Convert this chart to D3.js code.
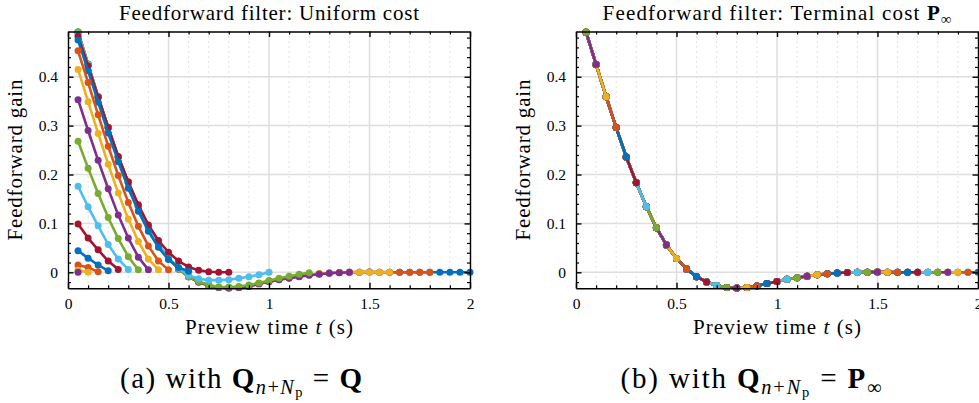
<!DOCTYPE html>
<html>
<head>
<meta charset="utf-8">
<script src="https://cdn.jsdelivr.net/npm/d3@7"></script>
<style>
    body { margin: 0; background: #fff; }
    svg text { font-family: "Liberation Serif", "DejaVu Serif", serif; fill: #000; }
    .tickLabel { font-size: 15.5px; }
    .axisLabel { font-size: 21px; }
    .title { font-size: 21px; }
    .caption { font-size: 29px; }
</style>
</head>
<body>
<svg id="figSVG" width="979" height="403"></svg>
<script>
//////////////////// DATA ////////////////////
// sample time of the preview (s)
const sampleTime = 0.05;

// axis ticks
const xMajorTicks = [0, 0.5, 1, 1.5, 2];
const yMajorTicks = [0, 0.1, 0.2, 0.3, 0.4];

// matlab default colour order
const colorOrder = ["#0072BD", "#D95319", "#EDB120", "#7E2F8E", "#77AC30", "#4DBEEE", "#A2142F"];

// infinite horizon gain (terminal cost P_inf), 40 samples
const gainInf = [0.491, 0.425, 0.359, 0.296, 0.236, 0.183, 0.134, 0.091, 0.056, 0.028,
    0.007, -0.009, -0.020, -0.027, -0.031, -0.032, -0.031, -0.028, -0.023, -0.019,
    -0.014, -0.011, -0.008, -0.005, -0.003, -0.0015, -0.0005, 0.0, 0.0003, 0.0004,
    0.0003, 0.0002, 0.0001, 0.0, 0.0, 0.0, 0.0, 0.0, 0.0, 0.0];

// uniform cost gains, one array per horizon N
const gainN40 = [0.491, 0.425, 0.359, 0.296, 0.236, 0.183, 0.134, 0.091, 0.056, 0.028,
    0.007, -0.009, -0.020, -0.027, -0.031, -0.032, -0.031, -0.028, -0.023, -0.019,
    -0.014, -0.011, -0.008, -0.005, -0.003, -0.0015, -0.0005, 0.0, 0.0003, 0.0004,
    0.0003, 0.0002, 0.0001, 0.0, 0.0, 0.0, 0.0, 0.0, 0.0, 0.0];
const gainN36 = [0.491, 0.425, 0.359, 0.296, 0.236, 0.183, 0.134, 0.091, 0.056, 0.028,
    0.007, -0.009, -0.020, -0.027, -0.031, -0.032, -0.031, -0.028, -0.023, -0.019,
    -0.014, -0.011, -0.008, -0.005, -0.003, -0.0015, -0.0005, 0.0, 0.0003, 0.0004,
    0.0003, 0.0002, 0.0001, 0.0, 0.0, 0.0];
const gainN32 = [0.491, 0.425, 0.359, 0.296, 0.236, 0.183, 0.134, 0.091, 0.056, 0.028,
    0.007, -0.009, -0.020, -0.027, -0.031, -0.032, -0.031, -0.028, -0.023, -0.019,
    -0.014, -0.011, -0.008, -0.005, -0.003, -0.0015, -0.0005, 0.0, 0.0003, 0.0003,
    0.0001, 0.0];
const gainN28 = [0.491, 0.425, 0.359, 0.296, 0.236, 0.183, 0.134, 0.091, 0.056, 0.028,
    0.007, -0.009, -0.020, -0.027, -0.031, -0.032, -0.031, -0.029, -0.024, -0.019,
    -0.015, -0.012, -0.009, -0.006, -0.004, -0.002, -0.001, 0.0];
const gainN24 = [0.492, 0.426, 0.359, 0.296, 0.236, 0.183, 0.134, 0.091, 0.056, 0.028,
    0.007, -0.009, -0.019, -0.026, -0.030, -0.030, -0.029, -0.026, -0.022, -0.017,
    -0.012, -0.008, -0.004, -0.001];
const gainN20 = [0.488, 0.424, 0.358, 0.295, 0.236, 0.183, 0.134, 0.092, 0.057, 0.030,
    0.009, -0.006, -0.013, -0.016, -0.016, -0.015, -0.012, -0.009, -0.005, 0.0];
const gainN16 = [0.483, 0.422, 0.358, 0.296, 0.237, 0.185, 0.138, 0.097, 0.065, 0.041,
    0.023, 0.011, 0.004, 0.001, 0.0, 0.0];
const gainN12 = [0.475, 0.412, 0.348, 0.285, 0.226, 0.172, 0.125, 0.084, 0.051, 0.026,
    0.010, 0.002];
const gainN10 = [0.453, 0.388, 0.322, 0.258, 0.198, 0.143, 0.094, 0.054, 0.023, 0.005];
const gainN9 = [0.415, 0.349, 0.284, 0.221, 0.162, 0.109, 0.063, 0.027, 0.005];
const gainN8 = [0.353, 0.290, 0.229, 0.171, 0.117, 0.070, 0.031, 0.005];
const gainN7 = [0.268, 0.213, 0.161, 0.112, 0.069, 0.032, 0.005];
const gainN6 = [0.176, 0.134, 0.095, 0.057, 0.027, 0.006];
const gainN5 = [0.099, 0.070, 0.046, 0.023, 0.006];
const gainN4 = [0.044, 0.029, 0.015, 0.003];
const gainN3 = [0.015, 0.010, 0.001];
const gainN2 = [0.004, 0.0];
const gainN1 = [0.0];

// drawing order: longest horizon first
const uniformSeries = [gainN40, gainN36, gainN32, gainN28, gainN24, gainN20, gainN16, gainN12,
    gainN10, gainN9, gainN8, gainN7, gainN6, gainN5, gainN4, gainN3, gainN2, gainN1];

// terminal cost: horizons 40 down to 1 all share the infinite horizon gain
const terminalSeries = d3.range(gainInf.length, 0, -1).map(n => gainInf.slice(0, n));


//////////////////// HANDLE SIZES ////////////////////
const svg = d3.select("#figSVG");

const plotBox = {
    top: 31.5,
    bottom: 288.2
};

const panels = [
    { left: 68, right: 470, series: uniformSeries,
      title: [{ t: "Feedforward filter: Uniform cost" }], titleWidth: 300,
      captionX: 241, captionWidth: 242,
      caption: [{ t: "(a) with " }, { t: "Q", b: true }, { t: "n", i: true, sub: 1 }, { t: "+", sub: 1 },
                { t: "N", i: true, sub: 1 }, { t: "p", sub: 2 }, { t: " = ", sub: 0 }, { t: "Q", b: true }] },
    { left: 576, right: 978, series: terminalSeries,
      title: [{ t: "Feedforward filter: Terminal cost " }, { t: "P", b: true }, { t: "\u221E", sub: 1 }], titleWidth: 349,
      captionX: 751, captionWidth: 261,
      caption: [{ t: "(b) with " }, { t: "Q", b: true }, { t: "n", i: true, sub: 1 }, { t: "+", sub: 1 },
                { t: "N", i: true, sub: 1 }, { t: "p", sub: 2 }, { t: " = ", sub: 0 }, { t: "P", b: true },
                { t: "\u221E", sub: 1 }] }
];


//////////////////// RICH TEXT HELPER ////////////////////
// appends tspans with bold / italic / subscript levels
function richText(sel, parts, size) {
    let level = 0;
    const shift = [0, 0.2, 0.16];
    const scale = [1, 0.7, 0.5];
    parts.forEach(p => {
        const next = p.sub === undefined ? 0 : p.sub;
        let dy = 0;
        if (next > level) for (let k = level + 1; k <= next; k++) dy += shift[k] * size * scale[k - 1];
        if (next < level) for (let k = level; k > next; k--) dy -= shift[k] * size * scale[k - 1];
        level = next;
        sel.append("tspan")
            .attr("dy", dy)
            .style("font-size", (size * scale[level]) + "px")
            .style("font-weight", p.b ? "bold" : "normal")
            .style("font-style", p.i ? "italic" : "normal")
            .text(p.t);
    });
}


//////////////////// DRAW PANELS ////////////////////
panels.forEach(panel => {

    ///// SCALES /////
    const x = d3.scaleLinear().domain([0, 2]).range([panel.left, panel.right]);
    const y = d3.scaleLinear().domain([-0.0325, 0.4925]).range([plotBox.bottom, plotBox.top]);

    const xMinor = d3.range(0.1, 2, 0.1).filter(v => Math.abs(v * 2 - Math.round(v * 2)) > 1e-6);
    const yMinor = d3.range(-0.02, 0.49, 0.02).filter(v => Math.abs(v * 10 - Math.round(v * 10)) > 1e-6);

    const g = svg.append("g");

    ///// GRID /////
    g.selectAll(".minorGrid")
        .data(xMinor)
        .enter().append("line")
        .attr("x1", d => x(d)).attr("x2", d => x(d))
        .attr("y1", plotBox.top).attr("y2", plotBox.bottom)
        .attr("stroke", "#c4c4c4")
        .attr("stroke-width", 1)
        .attr("stroke-dasharray", "1,4");

    g.selectAll(".xGrid")
        .data(xMajorTicks.slice(1, -1))
        .enter().append("line")
        .attr("x1", d => x(d)).attr("x2", d => x(d))
        .attr("y1", plotBox.top).attr("y2", plotBox.bottom)
        .attr("stroke", "#dedede")
        .attr("stroke-width", 1.5);

    g.selectAll(".yGrid")
        .data(yMajorTicks)
        .enter().append("line")
        .attr("x1", panel.left).attr("x2", panel.right)
        .attr("y1", d => y(d)).attr("y2", d => y(d))
        .attr("stroke", "#dedede")
        .attr("stroke-width", 1.5);

    ///// SERIES /////
    const line = d3.line()
        .x((d, i) => x((i + 1) * sampleTime))
        .y(d => y(d));

    panel.series.forEach((values, k) => {
        const color = colorOrder[k % colorOrder.length];
        const s = g.append("g");
        s.append("path")
            .datum(values)
            .attr("d", line)
            .attr("fill", "none")
            .attr("stroke", color)
            .attr("stroke-width", 2.6)
            .attr("stroke-linejoin", "round");
        s.selectAll("circle")
            .data(values)
            .enter().append("circle")
            .attr("cx", (d, i) => x((i + 1) * sampleTime))
            .attr("cy", d => y(d))
            .attr("r", 3.5)
            .attr("fill", color);
    });

    ///// AXES /////
    const axes = [
        { gen: d3.axisBottom(x), tr: `translate(0, ${plotBox.bottom})`, major: xMajorTicks, minor: xMinor, label: true },
        { gen: d3.axisTop(x), tr: `translate(0, ${plotBox.top})`, major: xMajorTicks, minor: xMinor, label: false },
        { gen: d3.axisLeft(y), tr: `translate(${panel.left}, 0)`, major: yMajorTicks, minor: yMinor, label: true },
        { gen: d3.axisRight(y), tr: `translate(${panel.right}, 0)`, major: yMajorTicks, minor: yMinor, label: false }
    ];

    axes.forEach(a => {
        // minor ticks
        g.append("g")
            .attr("transform", a.tr)
            .call(a.gen.tickValues(a.minor).tickSizeInner(-3).tickSizeOuter(0).tickFormat(""))
            .call(sel => sel.select(".domain").remove())
            .selectAll("line").attr("stroke-width", 1.2);

        // major ticks with labels
        const ax = g.append("g")
            .attr("transform", a.tr)
            .call(a.gen.tickValues(a.major).tickSizeInner(-5.5).tickSizeOuter(0).tickPadding(10)
                .tickFormat(a.label ? (d => String(d)) : ""));
        ax.select(".domain").attr("stroke-width", 1.4);
        ax.selectAll("line").attr("stroke-width", 1.4);
        ax.selectAll("text").attr("class", "tickLabel");
        ax.attr("font-family", null).attr("font-size", null);
    });

    ///// LABELS /////
    const midX = (panel.left + panel.right) / 2;

    const title = g.append("text")
        .attr("class", "title")
        .attr("x", midX)
        .attr("y", 20)
        .attr("text-anchor", "middle")
        .attr("textLength", panel.titleWidth)
        .attr("lengthAdjust", "spacing");
    richText(title, panel.title, 21);

    const xLabel = g.append("text")
        .attr("class", "axisLabel")
        .attr("x", midX)
        .attr("y", 334)
        .attr("text-anchor", "middle")
        .attr("textLength", 168)
        .attr("lengthAdjust", "spacing");
    richText(xLabel, [{ t: "Preview time " }, { t: "t", i: true }, { t: " (s)" }], 21);

    g.append("text")
        .attr("class", "axisLabel")
        .attr("transform", `rotate(-90, ${panel.left - 46}, 160)`)
        .attr("x", panel.left - 46)
        .attr("y", 160)
        .attr("text-anchor", "middle")
        .attr("textLength", 161)
        .attr("lengthAdjust", "spacing")
        .text("Feedforward gain");

    const caption = g.append("text")
        .attr("class", "caption")
        .attr("x", panel.captionX)
        .attr("y", 388)
        .attr("text-anchor", "middle")
        .attr("textLength", panel.captionWidth)
        .attr("lengthAdjust", "spacing");
    richText(caption, panel.caption, 29);
});
</script>
</body>
</html>
